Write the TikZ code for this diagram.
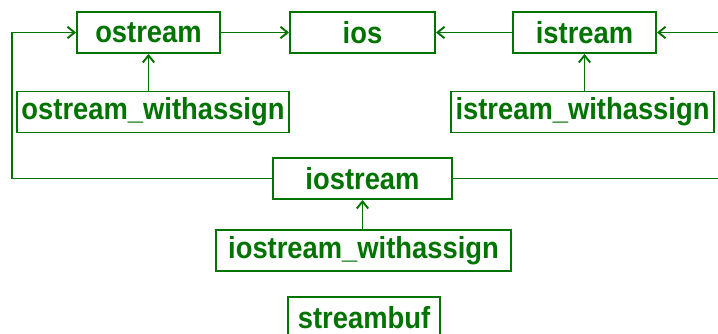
\documentclass[tikz,border=0pt]{standalone}
\usepackage{fontspec}
\newfontfamily\classfont{Liberation Sans}[FakeStretch=0.9]
\usetikzlibrary{positioning}
\usetikzlibrary{arrows.meta}
\definecolor{darkgreen}{RGB}{0,115,0}

\begin{document}
\begin{tikzpicture}[>={Straight Barb[length=4pt,width=6.5pt]}]
	\tikzstyle{cls} = [draw=darkgreen,line width=1.1pt,rectangle,minimum height=0.82cm,inner sep=2pt,text=darkgreen,font=\classfont\bfseries\fontsize{17.3}{18}\selectfont]
	\tikzstyle{link} = [draw=darkgreen,line width=1.1pt]

	\useasboundingbox (0,0) rectangle (14.36,6.68);

	\node[cls,minimum width=2.86cm] at (2.97,6.03) (ostream) {ostream};
	\node[cls,minimum width=2.90cm] at (7.25,6.03) (ios) {ios};
	\node[cls,minimum width=2.86cm] at (11.69,6.03) (istream) {istream};
	\node[cls,minimum width=5.44cm] at (3.06,4.44) (ostreamwa) {ostream\_withassign};
	\node[cls,minimum width=5.26cm] at (11.65,4.44) (istreamwa) {istream\_withassign};
	\node[cls,minimum width=3.58cm] at (7.25,3.11) (iostream) {iostream};
	\node[cls,minimum width=5.90cm] at (7.27,1.67) (iostreamwa) {iostream\_withassign};
	\node[cls,minimum width=3.04cm] at (7.28,0.33) (streambuf) {streambuf};

	\coordinate (lbend) at (0.24,3.11);
	\coordinate (redge) at (14.40,3.11);
	\coordinate (rin) at (14.40,6.03);

	\begin{scope}[link]
		\draw[->] (ostream) -- (ios);
		\draw[->] (istream) -- (ios);
		\draw[->] (ostreamwa.north -| ostream) -- (ostream);
		\draw[->] (istreamwa.north -| istream) -- (istream);
		\draw[->] (iostreamwa.north -| iostream) -- (iostream);
		\draw[->] (iostream.west) -- (lbend) |- (ostream.west);
		\draw (iostream.east) -- (redge);
		\draw[->] (rin) -- (istream.east);
	\end{scope}
\end{tikzpicture}
\end{document}
